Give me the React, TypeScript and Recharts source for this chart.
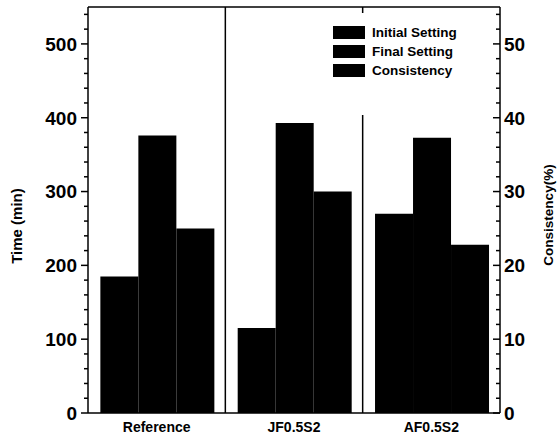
import React from "react";
import {
  BarChart,
  Bar,
  XAxis,
  YAxis,
  Legend,
  ReferenceLine,
  Customized,
} from "recharts";

const categories = ["Reference", "JF0.5S2", "AF0.5S2"];
const initialSetting = [185, 115, 270];
const finalSetting = [376, 393, 373];
const consistency = [25, 30, 22.8];

const timeTicks = [
  0, 20, 40, 60, 80, 100, 120, 140, 160, 180, 200, 220, 240, 260, 280, 300, 320, 340, 360, 380,
  400, 420, 440, 460, 480, 500, 520, 540,
];
const consistencyTicks = [
  0, 2, 4, 6, 8, 10, 12, 14, 16, 18, 20, 22, 24, 26, 28, 30, 32, 34, 36, 38, 40, 42, 44, 46, 48,
  50, 52, 54,
];
const legendItems = ["Initial Setting", "Final Setting", "Consistency"];

const FONT = '"Liberation Sans", Arial, sans-serif';

const data = categories.map((name, i) => ({
  name,
  initial: initialSetting[i],
  final: finalSetting[i],
  consistency: consistency[i],
}));

function LeftTick(props: any) {
  const { x, y, payload } = props;
  const major = payload.value % 100 === 0;
  return (
    <g>
      <line x1={x - (major ? 7 : 4)} x2={x} y1={y} y2={y} stroke="#000" strokeWidth={1.5} />
      {major && (
        <text
          x={x - 11}
          y={y}
          dy="0.36em"
          textAnchor="end"
          fontFamily={FONT}
          fontWeight="bold"
          fontSize={19}
          fill="#000"
        >
          {payload.value}
        </text>
      )}
    </g>
  );
}

function RightTick(props: any) {
  const { x, y, payload } = props;
  const major = payload.value % 10 === 0;
  return (
    <g>
      <line x1={x - (major ? 7 : 4)} x2={x} y1={y} y2={y} stroke="#000" strokeWidth={1.5} />
      {major && (
        <text
          x={x + 4}
          y={y}
          dy="0.36em"
          textAnchor="start"
          fontFamily={FONT}
          fontWeight="bold"
          fontSize={19}
          fill="#000"
        >
          {payload.value}
        </text>
      )}
    </g>
  );
}

function LegendBox() {
  return (
    <div style={{ background: "#fff", width: 150, height: 102, paddingTop: 10, boxSizing: "border-box" }}>
      {legendItems.map((label) => (
        <div key={label} style={{ display: "flex", alignItems: "center", height: 19 }}>
          <div style={{ width: 32, height: 13, background: "#000", marginLeft: 3 }} />
          <span
            style={{
              marginLeft: 7,
              fontFamily: FONT,
              fontWeight: "bold",
              fontSize: 13.5,
              color: "#000",
            }}
          >
            {label}
          </span>
        </div>
      ))}
    </div>
  );
}

// axis titles and the top frame line
function Frame() {
  return (
    <g fontFamily={FONT} fontWeight="bold" fill="#000">
      <line x1={88} x2={500} y1={7} y2={7} stroke="#000" strokeWidth={1.5} />
      <text x={17} y={226} transform="rotate(-90 17 226)" textAnchor="middle" dy="0.35em" fontSize={15}>
        Time (min)
      </text>
      <text x={548} y={215} transform="rotate(-90 548 215)" textAnchor="middle" dy="0.35em" fontSize={13.5}>
        Consistency(%)
      </text>
    </g>
  );
}

export default function App() {
  return (
    <div style={{ position: "absolute", left: 0, top: 0, background: "#fff" }}>
      <BarChart
        width={558}
        height={439}
        data={data}
        margin={{ top: 7, right: 0, bottom: 0, left: 0 }}
        barCategoryGap="9%"
        barGap={0}
      >
        <XAxis
          xAxisId="cat"
          dataKey="name"
          height={26}
          axisLine={{ stroke: "#000", strokeWidth: 1.5 }}
          tickLine={false}
          tickSize={0}
          tickMargin={9}
          interval={0}
          tick={{ fontFamily: FONT, fontWeight: "bold", fontSize: 14, fill: "#000" }}
        />
        <YAxis
          yAxisId="time"
          orientation="left"
          width={88}
          domain={[0, 550]}
          ticks={timeTicks}
          interval={0}
          tickSize={0}
          tickMargin={0}
          tickLine={false}
          axisLine={{ stroke: "#000", strokeWidth: 1.5 }}
          tick={<LeftTick />}
        />
        <YAxis
          yAxisId="cons"
          orientation="right"
          width={58}
          domain={[0, 55]}
          ticks={consistencyTicks}
          interval={0}
          tickSize={0}
          tickMargin={0}
          tickLine={false}
          axisLine={{ stroke: "#000", strokeWidth: 1.5 }}
          tick={<RightTick />}
        />
        <ReferenceLine
          xAxisId="cat"
          yAxisId="time"
          x={categories[1]}
          position="start"
          ifOverflow="visible"
          stroke="#000"
          strokeWidth={1.5}
        />
        <ReferenceLine
          xAxisId="cat"
          yAxisId="time"
          x={categories[2]}
          position="start"
          ifOverflow="visible"
          stroke="#000"
          strokeWidth={1.5}
        />
        <Bar xAxisId="cat" yAxisId="time" dataKey="initial" name="Initial Setting" fill="#000" isAnimationActive={false} />
        <Bar xAxisId="cat" yAxisId="time" dataKey="final" name="Final Setting" fill="#000" isAnimationActive={false} />
        <Bar xAxisId="cat" yAxisId="cons" dataKey="consistency" name="Consistency" fill="#000" isAnimationActive={false} />
        <Legend
          layout="vertical"
          align="center"
          verticalAlign="middle"
          content={<LegendBox />}
          wrapperStyle={{ position: "absolute", left: 330, top: 13, width: 150, height: 102 }}
        />
        <Customized component={<Frame />} />
      </BarChart>
    </div>
  );
}
